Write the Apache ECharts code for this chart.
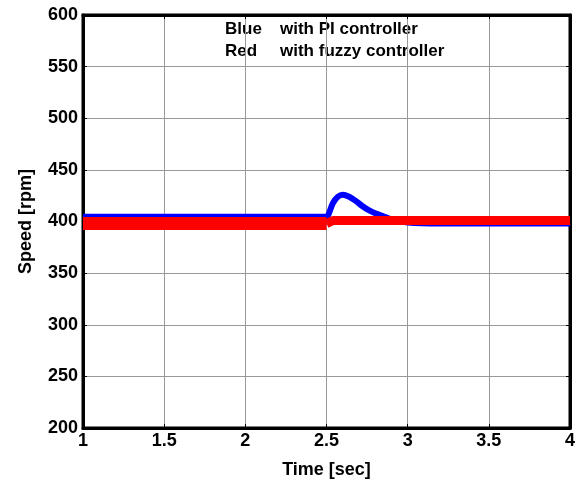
<!DOCTYPE html>
<html>
<head>
<meta charset="utf-8">
<script src="https://cdn.jsdelivr.net/npm/echarts@6/dist/echarts.min.js"></script>
<style>
  html, body { margin: 0; padding: 0; background: #fff; }
  #chart { width: 584px; height: 483px; }
</style>
</head>
<body>
<div id="chart"></div>
<script>
// PI controller response (blue)
const blueTime  = [1, 2.4, 2.5, 2.52, 2.54, 2.57, 2.6, 2.64, 2.68, 2.72, 2.76, 2.8, 2.85, 2.9, 3.0, 3.2, 4];
const blueSpeed = [404.5, 404.5, 404.5, 410, 418, 424, 426, 424, 420, 415, 411, 408, 405, 402, 399, 398, 398];

// fuzzy controller response (red), thick ripple band before the step, thinner after
const redTimeA  = [1, 2.5];
const redSpeedA = [398, 398];
const redTimeB  = [2.5, 2.54, 4];
const redSpeedB = [398, 401, 401];

const xTicks = [1, 1.5, 2, 2.5, 3, 3.5, 4];
const yTicks = [200, 250, 300, 350, 400, 450, 500, 550, 600];

const font = '"Liberation Sans", Arial, sans-serif';

const pairs = (t, v) => t.map((x, i) => [x, v[i]]);

const chart = echarts.init(document.getElementById('chart'));

const option = {
    animation: false,
    grid: {
        left: 83, right: 14, top: 15, bottom: 55,
        outerBoundsMode: 'none',
        show: true, borderColor: '#000', borderWidth: 3, backgroundColor: '#fff'
    },
    xAxis: [
        {
            type: 'value', min: xTicks[0], max: xTicks[xTicks.length - 1], interval: 0.5,
            axisLine: { show: true, lineStyle: { color: '#000', width: 3 } },
            axisTick: { show: true, inside: true, length: 4, lineStyle: { color: '#000', width: 1 } },
            axisLabel: { color: '#000', fontFamily: font, fontWeight: 'bold', fontSize: 18, margin: 4 },
            splitLine: { show: true, lineStyle: { color: '#999', width: 1 } },
            name: 'Time [sec]', nameLocation: 'middle', nameGap: 33,
            nameTextStyle: { color: '#000', fontFamily: font, fontWeight: 'bold', fontSize: 18 }
        },
        {
            type: 'value', position: 'top', min: 1, max: 4, interval: 0.5,
            axisLine: { show: true, lineStyle: { color: '#000', width: 3 } },
            axisTick: { show: true, inside: true, length: 4, lineStyle: { color: '#000' } },
            axisLabel: { show: false }, splitLine: { show: false }
        }
    ],
    yAxis: [
        {
            type: 'value', min: yTicks[0], max: yTicks[yTicks.length - 1], interval: 50,
            axisLine: { show: true, lineStyle: { color: '#000', width: 3 } },
            axisTick: { show: true, inside: true, length: 4, lineStyle: { color: '#000', width: 1 } },
            axisLabel: { color: '#000', fontFamily: font, fontWeight: 'bold', fontSize: 18, margin: 5 },
            splitLine: { show: true, lineStyle: { color: '#999', width: 1 } },
            name: 'Speed [rpm]', nameLocation: 'middle', nameGap: 48, nameRotate: 90,
            nameTextStyle: { color: '#000', fontFamily: font, fontWeight: 'bold', fontSize: 18 }
        },
        {
            type: 'value', position: 'right', min: 200, max: 600, interval: 50,
            axisLine: { show: true, lineStyle: { color: '#000', width: 3 } },
            axisTick: { show: true, inside: true, length: 4, lineStyle: { color: '#000' } },
            axisLabel: { show: false }, splitLine: { show: false }
        }
    ],
    graphic: [
        { type: 'text', left: 225, top: 21, style: { text: 'Blue', font: 'bold 17px ' + font, fill: '#000' } },
        { type: 'text', left: 280, top: 21, style: { text: 'with PI controller', font: 'bold 17px ' + font, fill: '#000' } },
        { type: 'text', left: 225, top: 43, style: { text: 'Red', font: 'bold 17px ' + font, fill: '#000' } },
        { type: 'text', left: 280, top: 43, style: { text: 'with fuzzy controller', font: 'bold 17px ' + font, fill: '#000' } }
    ],
    series: [
        {
            name: 'PI', type: 'line', data: pairs(blueTime, blueSpeed),
            smooth: 0.3,
            showSymbol: false, lineStyle: { color: '#0000ff', width: 6, join: 'round' }
        },
        {
            name: 'fuzzy A', type: 'line', data: pairs(redTimeA, redSpeedA),
            showSymbol: false, lineStyle: { color: '#ff0000', width: 13, cap: 'butt' }
        },
        {
            name: 'fuzzy B', type: 'line', data: pairs(redTimeB, redSpeedB),
            showSymbol: false, lineStyle: { color: '#ff0000', width: 9, cap: 'butt' }
        }
    ]
};

chart.setOption(option);
</script>
</body>
</html>
